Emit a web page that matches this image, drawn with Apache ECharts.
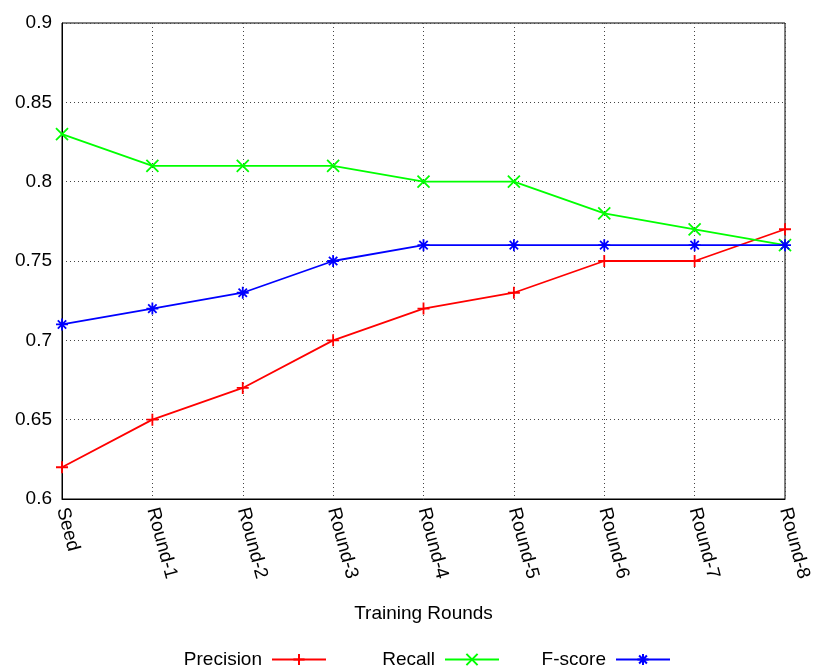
<!DOCTYPE html>
<html>
<head>
<meta charset="utf-8">
<script src="https://cdn.jsdelivr.net/npm/echarts@6/dist/echarts.min.js"></script>
<style>
  html, body { margin: 0; padding: 0; background: #fff; }
  #chart { width: 813px; height: 669px; }
</style>
</head>
<body>
<div id="chart"></div>
<script>
// Training progress: scores per round
const rounds = ['Seed', 'Round-1', 'Round-2', 'Round-3', 'Round-4', 'Round-5', 'Round-6', 'Round-7', 'Round-8'];
const precision = [0.62, 0.65, 0.67, 0.70, 0.72, 0.73, 0.75, 0.75, 0.77];
const recall    = [0.83, 0.81, 0.81, 0.81, 0.80, 0.80, 0.78, 0.77, 0.76];
const fscore    = [0.71, 0.72, 0.73, 0.75, 0.76, 0.76, 0.76, 0.76, 0.76];

const FONT = 'Liberation Sans, Arial, sans-serif';

// stroke-only marker shapes
const PLUS  = 'path://M0,5 L10,5 M5,0 L5,10';
const CROSS = 'path://M0,0 L10,10 M10,0 L0,10';
const STAR  = 'path://M0,5 L10,5 M5,0 L5,10 M1.5,1.5 L8.5,8.5 M8.5,1.5 L1.5,8.5';

function makeSeries(name, data, color, symbol) {
  return {
    name: name,
    type: 'line',
    data: data,
    symbol: symbol,
    symbolSize: 12,
    showAllSymbol: true,
    lineStyle: { color: color, width: 1.8 },
    itemStyle: { color: color, borderColor: color, borderWidth: 1.8 },
    emphasis: { disabled: true },
    animation: false
  };
}

function makeLegend(name, rightPos) {
  return {
    data: [name],
    right: rightPos,
    bottom: 0,
    padding: 0,
    align: 'right',
    itemWidth: 54,
    itemHeight: 14,
    selectedMode: false,
    textStyle: { fontFamily: FONT, fontSize: 19, color: '#000', padding: [0, 5, 0, 0] }
  };
}

const chart = echarts.init(document.getElementById('chart'), null, { renderer: 'canvas' });

chart.setOption({
  backgroundColor: '#fff',
  animation: false,
  grid: {
    left: 62, right: 28, top: 23, bottom: 170,
    outerBoundsMode: 'none',
    containLabel: false,
    show: true, borderColor: '#000', borderWidth: 1, backgroundColor: 'transparent'
  },
  legend: [
    makeLegend('Precision', 486),
    makeLegend('Recall', 313),
    makeLegend('F-score', 142)
  ],
  xAxis: {
    type: 'category',
    data: rounds,
    boundaryGap: false,
    name: 'Training Rounds',
    nameLocation: 'middle',
    nameGap: 105,
    nameMoveOverlap: false,
    nameTextStyle: { fontFamily: FONT, fontSize: 19, color: '#000' },
    axisLine: { show: true, lineStyle: { color: '#000', width: 1 } },
    axisTick: { show: false },
    axisLabel: {
      rotate: -75, margin: 9, interval: 0,
      fontFamily: FONT, fontSize: 19, color: '#000'
    },
    splitLine: { show: true, lineStyle: { color: '#444', type: [1, 3], width: 1 } }
  },
  yAxis: {
    type: 'value',
    min: 0.6, max: 0.9, interval: 0.05,
    axisLine: { show: true, lineStyle: { color: '#000', width: 1 } },
    axisTick: { show: false },
    axisLabel: {
      margin: 10, fontFamily: FONT, fontSize: 19, color: '#000',
      formatter: function (v) { return String(parseFloat(v.toFixed(2))); }
    },
    splitLine: { show: true, lineStyle: { color: '#444', type: [1, 3], width: 1 } }
  },
  series: [
    makeSeries('Precision', precision, '#ff0000', PLUS),
    makeSeries('Recall', recall, '#00ff00', CROSS),
    makeSeries('F-score', fscore, '#0000ff', STAR)
  ]
});
</script>
</body>
</html>
